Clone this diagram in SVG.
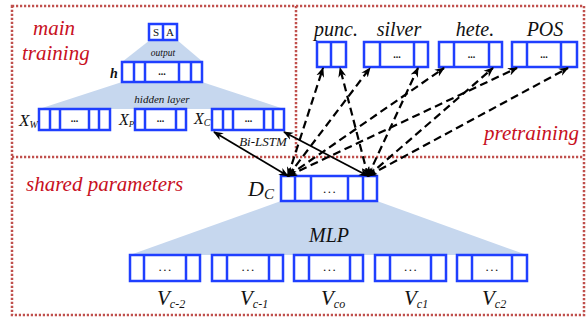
<svg xmlns="http://www.w3.org/2000/svg" width="587" height="320" viewBox="0 0 587 320">
<style>
.frame{fill:none;stroke:#c0504d;stroke-width:2.5;stroke-dasharray:2.2 1.8}
.trap{fill:#c6d7ee;stroke:none}
.box{fill:#fff;stroke:#1f3fff;stroke-width:2.5}
.div{stroke:#1f3fff;stroke-width:2.5}
.red{font-family:"Liberation Serif",serif;font-style:italic;fill:#c8101e}
.lbl{font-family:"Liberation Serif",serif;font-style:italic;fill:#111}
.dots{font-family:"Liberation Serif",serif;font-weight:bold;font-size:10px;fill:#111;text-anchor:middle}
.dots2{font-family:"Liberation Serif",serif;font-size:13px;fill:#111;text-anchor:middle;letter-spacing:1.5px}
.sa{font-family:"Liberation Serif",serif;font-size:11px;fill:#111;text-anchor:middle}
.solid{fill:none;stroke:#000;stroke-width:1.8}
.dash{fill:none;stroke:#000;stroke-width:2.2;stroke-dasharray:8 4.5}
</style>
<defs>
<marker id="ah" viewBox="0 0 10 10" refX="9" refY="5" markerWidth="10" markerHeight="10" markerUnits="userSpaceOnUse" orient="auto-start-reverse">
<path d="M0,1 L10,5 L0,9 L3,5 Z" fill="#000"/>
</marker>
</defs>
<g id="frames">
<rect class="frame" x="12" y="6" width="572" height="309"/>
<line class="frame" x1="12" y1="157" x2="584" y2="157"/>
<line class="frame" x1="296" y1="6" x2="296" y2="157"/>
</g>
<g id="region-labels">
<text class="red" x="33" y="35" font-size="21">main</text>
<text class="red" x="22" y="60" font-size="21">training</text>
<text class="red" x="484" y="140" font-size="21">pretraining</text>
<text class="red" x="26" y="191" font-size="21">shared parameters</text>
</g>
<g id="trapezoids">
<polygon class="trap" points="150,40 177,40 203,62 122,62"/>
<polygon class="trap" points="122,82 202,82 284,109 39,109"/>
<polygon class="trap" points="281,201 377,201 527,255 130,255"/>
<text class="lbl" x="163" y="56" font-size="9.5" text-anchor="middle">output</text>
<text class="lbl" x="162" y="103" font-size="11" text-anchor="middle">hidden layer</text>
<text class="lbl" x="329" y="242" font-size="20" text-anchor="middle">MLP</text>
</g>
<g id="node-SA">
<rect class="box" x="149" y="24" width="28" height="16"/>
<line class="div" x1="163" y1="24" x2="163" y2="40"/>
<text class="sa" x="156" y="36">S</text>
<text class="sa" x="170" y="36">A</text>
</g>
<g id="node-h">
<rect class="box" x="122" y="62" width="80" height="20"/>
<line class="div" x1="134" y1="62" x2="134" y2="82"/>
<line class="div" x1="145" y1="62" x2="145" y2="82"/>
<line class="div" x1="179" y1="62" x2="179" y2="82"/>
<line class="div" x1="191" y1="62" x2="191" y2="82"/>
<text class="dots" x="162" y="75">...</text>
<text class="lbl" x="110" y="78" font-size="14" font-weight="bold">h</text>
</g>
<g id="node-XW">
<rect class="box" x="39" y="109" width="71" height="21"/>
<line class="div" x1="50" y1="109" x2="50" y2="130"/>
<line class="div" x1="60" y1="109" x2="60" y2="130"/>
<line class="div" x1="89" y1="109" x2="89" y2="130"/>
<line class="div" x1="99" y1="109" x2="99" y2="130"/>
<text class="dots" x="74.5" y="122">...</text>
<text class="lbl" x="19" y="126" font-size="17">X<tspan font-size="10" dy="2">W</tspan></text>
</g>
<g id="node-XP">
<rect class="box" x="135" y="109" width="51" height="21"/>
<line class="div" x1="145" y1="109" x2="145" y2="130"/>
<line class="div" x1="176" y1="109" x2="176" y2="130"/>
<text class="dots" x="160.5" y="122">...</text>
<text class="lbl" x="119" y="125" font-size="16">X<tspan font-size="9" dy="2">P</tspan></text>
</g>
<g id="node-XC">
<rect class="box" x="212" y="109" width="72" height="21"/>
<line class="div" x1="223" y1="109" x2="223" y2="130"/>
<line class="div" x1="233" y1="109" x2="233" y2="130"/>
<line class="div" x1="264" y1="109" x2="264" y2="130"/>
<line class="div" x1="273" y1="109" x2="273" y2="130"/>
<text class="dots" x="248.5" y="122">...</text>
<text class="lbl" x="194" y="124" font-size="16">X<tspan font-size="10" dy="2">C</tspan></text>
</g>
<g id="node-punc">
<text class="lbl" x="336" y="36" font-size="20" text-anchor="middle">punc.</text>
<rect class="box" x="317" y="42" width="29" height="25"/>
<line class="div" x1="331" y1="42" x2="331" y2="67"/>
</g>
<g id="node-silver">
<text class="lbl" x="399" y="36" font-size="20" text-anchor="middle">silver</text>
<rect class="box" x="364" y="42" width="64" height="25"/>
<line class="div" x1="380" y1="42" x2="380" y2="67"/>
<line class="div" x1="414" y1="42" x2="414" y2="67"/>
<text class="dots" x="397" y="58">...</text>
</g>
<g id="node-hete">
<text class="lbl" x="475" y="36" font-size="20" text-anchor="middle">hete.</text>
<rect class="box" x="439" y="42" width="63" height="25"/>
<line class="div" x1="454" y1="42" x2="454" y2="67"/>
<line class="div" x1="489" y1="42" x2="489" y2="67"/>
<text class="dots" x="471.5" y="58">...</text>
</g>
<g id="node-POS">
<text class="lbl" x="545" y="36" font-size="20" text-anchor="middle">POS</text>
<rect class="box" x="512" y="42" width="65" height="25"/>
<line class="div" x1="527" y1="42" x2="527" y2="67"/>
<line class="div" x1="561" y1="42" x2="561" y2="67"/>
<text class="dots" x="544" y="58">...</text>
</g>
<g id="node-DC">
<rect class="box" x="281" y="176" width="96" height="25"/>
<line class="div" x1="295" y1="176" x2="295" y2="201"/>
<line class="div" x1="311" y1="176" x2="311" y2="201"/>
<line class="div" x1="348" y1="176" x2="348" y2="201"/>
<line class="div" x1="363" y1="176" x2="363" y2="201"/>
<text class="dots2" x="330" y="193">...</text>
<text class="lbl" x="248" y="196" font-size="22">D<tspan font-size="15" dy="3">C</tspan></text>
</g>
<g id="node-Vc-2">
<rect class="box" x="130" y="255" width="70" height="26"/>
<line class="div" x1="144" y1="255" x2="144" y2="281"/>
<line class="div" x1="186" y1="255" x2="186" y2="281"/>
<text class="dots2" x="165.5" y="271">...</text>
<text class="lbl" x="157" y="305" font-size="21">V<tspan font-size="12" dy="3">c-2</tspan></text>
</g>
<g id="node-Vc-1">
<rect class="box" x="212" y="255" width="71" height="26"/>
<line class="div" x1="227" y1="255" x2="227" y2="281"/>
<line class="div" x1="269" y1="255" x2="269" y2="281"/>
<text class="dots2" x="248.5" y="271">...</text>
<text class="lbl" x="240" y="305" font-size="21">V<tspan font-size="12" dy="3">c-1</tspan></text>
</g>
<g id="node-Vc0">
<rect class="box" x="294" y="255" width="69" height="26"/>
<line class="div" x1="309" y1="255" x2="309" y2="281"/>
<line class="div" x1="350" y1="255" x2="350" y2="281"/>
<text class="dots2" x="330" y="271">...</text>
<text class="lbl" x="321" y="305" font-size="21">V<tspan font-size="12" dy="3">co</tspan></text>
</g>
<g id="node-Vc1">
<rect class="box" x="375" y="255" width="71" height="26"/>
<line class="div" x1="390" y1="255" x2="390" y2="281"/>
<line class="div" x1="431" y1="255" x2="431" y2="281"/>
<text class="dots2" x="411" y="271">...</text>
<text class="lbl" x="404" y="305" font-size="21">V<tspan font-size="12" dy="3">c1</tspan></text>
</g>
<g id="node-Vc2">
<rect class="box" x="457" y="255" width="70" height="26"/>
<line class="div" x1="472" y1="255" x2="472" y2="281"/>
<line class="div" x1="512" y1="255" x2="512" y2="281"/>
<text class="dots2" x="492.5" y="271">...</text>
<text class="lbl" x="482" y="305" font-size="21">V<tspan font-size="12" dy="3">c2</tspan></text>
</g>
<g id="connectors">
<line class="solid" x1="288" y1="176" x2="214" y2="132" marker-start="url(#ah)" marker-end="url(#ah)"/>
<line class="solid" x1="368" y1="176" x2="284" y2="132" marker-start="url(#ah)" marker-end="url(#ah)"/>
<line class="dash" x1="288" y1="176" x2="323" y2="68" marker-start="url(#ah)" marker-end="url(#ah)"/>
<line class="dash" x1="368" y1="176" x2="340" y2="68" marker-start="url(#ah)" marker-end="url(#ah)"/>
<line class="dash" x1="288" y1="176" x2="370" y2="68" marker-start="url(#ah)" marker-end="url(#ah)"/>
<line class="dash" x1="368" y1="176" x2="418" y2="68" marker-start="url(#ah)" marker-end="url(#ah)"/>
<line class="dash" x1="288" y1="176" x2="444" y2="68" marker-start="url(#ah)" marker-end="url(#ah)"/>
<line class="dash" x1="368" y1="176" x2="493" y2="68" marker-start="url(#ah)" marker-end="url(#ah)"/>
<line class="dash" x1="288" y1="176" x2="517" y2="68" marker-start="url(#ah)" marker-end="url(#ah)"/>
<line class="dash" x1="368" y1="176" x2="568" y2="68" marker-start="url(#ah)" marker-end="url(#ah)"/>
</g>
<text class="lbl" x="263" y="146" font-size="13" text-anchor="middle" fill="#222">Bi-LSTM</text>
</svg>
